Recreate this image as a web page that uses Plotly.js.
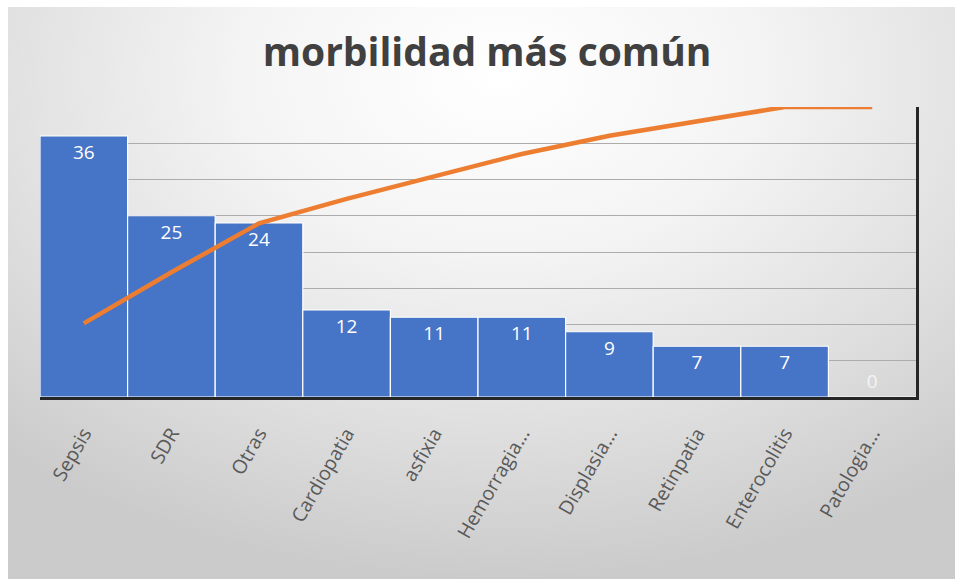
<!DOCTYPE html>
<html>
<head>
<meta charset="utf-8">
<script src="https://cdn.plot.ly/plotly-3.0.1.min.js"></script>
<style>
  html, body { margin:0; padding:0; background:#ffffff; }
  #bg { position:absolute; left:8px; top:7px; width:947px; height:572px;
        background: radial-gradient(ellipse 78% 88% at 52% 12%, #ffffff 0%, #f4f4f4 35%, #dfdfdf 70%, #cbcbcb 100%); }
  #chart { position:absolute; left:0; top:0; width:955px; height:579px; }
</style>
</head>
<body>
<div id="bg"></div>
<div id="chart"></div>
<script>
const categories = ["Sepsis", "SDR", "Otras", "Cardiopatia", "asfixia", "Hemorragia...", "Displasia...", "Retinpatia", "Enterocolitis", "Patologia..."];
const counts = [36, 25, 24, 12, 11, 11, 9, 7, 7, 0];
const cumulativePct = [25.4, 43.0, 59.9, 68.3, 76.1, 83.8, 90.1, 95.1, 100, 100];
const titleText = "morbilidad más común";

const bars = {
  type: 'bar',
  x: categories,
  y: counts,
  text: counts.map(String),
  textposition: counts.map(v => v > 0 ? 'inside' : 'outside'),
  insidetextanchor: 'end',
  textangle: 0,
  cliponaxis: false,
  textfont: { family: 'Open Sans, sans-serif', size: 19, color: '#ffffff' },
  outsidetextfont: { family: 'Open Sans, sans-serif', size: 19, color: '#f4f4f4' },
  marker: { color: '#4674C6', line: { color: '#ffffff', width: 1.2 } },
  hoverinfo: 'x+y',
  showlegend: false
};

const line = {
  type: 'scatter',
  mode: 'lines',
  x: categories,
  y: cumulativePct,
  yaxis: 'y2',
  line: { color: '#ED7D31', width: 4.5 },
  showlegend: false
};

const layout = {
  width: 955,
  height: 579,
  margin: { l: 40, r: 39, t: 107, b: 182 },
  paper_bgcolor: 'rgba(0,0,0,0)',
  plot_bgcolor: 'rgba(0,0,0,0)',
  bargap: 0,
  title: {
    text: '<b>' + titleText + '</b>',
    font: { family: 'Open Sans, sans-serif', size: 39, color: '#404040' },
    x: 0.51, xanchor: 'center',
    y: 0.91, yanchor: 'middle'
  },
  xaxis: {
    type: 'category',
    tickangle: -60,
    tickfont: { family: 'Open Sans, sans-serif', size: 19.5, color: '#595959' },
    showline: true,
    linecolor: '#262626',
    linewidth: 2.5,
    ticks: 'outside',
    ticklen: 15,
    tickcolor: 'rgba(0,0,0,0)',
    showgrid: false,
    fixedrange: true
  },
  yaxis: {
    range: [0, 40],
    dtick: 5,
    showticklabels: false,
    showgrid: true,
    gridcolor: '#acacac',
    gridwidth: 1,
    zeroline: false,
    showline: false,
    fixedrange: true
  },
  yaxis2: {
    overlaying: 'y',
    side: 'right',
    range: [0, 100],
    showticklabels: false,
    showgrid: false,
    zeroline: false,
    showline: true,
    linecolor: '#262626',
    linewidth: 2.5,
    ticks: '',
    fixedrange: true
  }
};

Plotly.newPlot('chart', [bars, line], layout, { displayModeBar: false, staticPlot: true });
</script>
</body>
</html>
